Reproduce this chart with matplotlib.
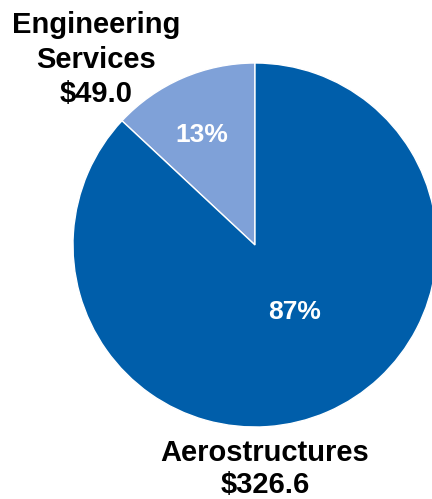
import matplotlib.pyplot as plt

segments = ["Engineering\nServices", "Aerostructures"]
revenue = [49.0, 326.6]
pct_labels = ["13%", "87%"]
colours = ["#7fa1d8", "#005eaa"]

fig = plt.figure(figsize=(4.32, 4.99), dpi=100)
ax = fig.add_axes([0, 0, 1, 1])

# pie in pixel coords (y from bottom)
wedges, _ = ax.pie(revenue, colors=colours, startangle=90, counterclock=True,
                   center=(255, 254), radius=182,
                   wedgeprops=dict(edgecolor="white", linewidth=1))
ax.set_xlim(0, 432)
ax.set_ylim(0, 499)
ax.set_aspect("equal")
ax.axis("off")

fnt = "Liberation Sans"
big = dict(ha="center", va="baseline", fontsize=21, fontweight="bold", family=fnt)

lines_es = segments[0].split("\n") + [f"${revenue[0]:.1f}"]
for txt, y in zip(lines_es, [466, 431, 397]):
    ax.text(96, y, txt, **big)

lines_aero = [segments[1], f"${revenue[1]:.1f}"]
for txt, y in zip(lines_aero, [38, 6]):
    ax.text(265, y, txt, **big)

small = dict(ha="center", va="center", color="white", fontsize=19,
             fontweight="bold", family=fnt)
ax.text(202, 364, pct_labels[0], **small)
ax.text(295, 187, pct_labels[1], **small)

fig.savefig("out.png", dpi=100)
